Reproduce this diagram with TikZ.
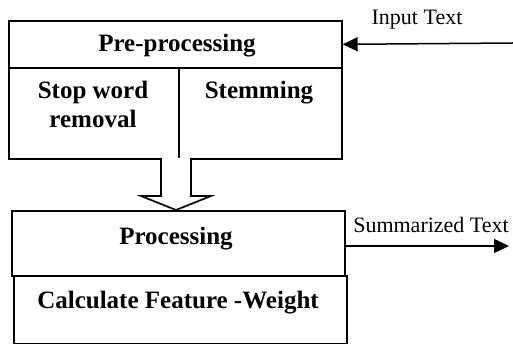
\documentclass[tikz,border=0pt]{standalone}
\usepackage{fontspec}
\setmainfont{Liberation Serif}
\usetikzlibrary{arrows.meta,calc}
\begin{document}
\begin{tikzpicture}[x=1pt,y=-1pt,
  box/.style={draw=black,line width=1.7pt,rectangle,inner sep=0pt,anchor=north west},
  btxt/.style={font=\fontsize{25}{29}\selectfont\bfseries,inner sep=0pt,anchor=base,align=center},
  ltxt/.style={font=\fontsize{22}{26}\selectfont,inner sep=0pt,anchor=base},
  flow/.style={line width=1.5pt,-{Triangle[length=15pt,width=14pt]}}]
\useasboundingbox (0,0) rectangle (513,344);
% top block
\node[box,minimum width=333pt,minimum height=47pt] (pre) at (8,20) {};
\node[box,minimum width=170pt,minimum height=91pt] (stop) at (8,67) {};
\node[box,minimum width=163pt,minimum height=91pt] (stem) at (178,67) {};
\node[btxt] (pret) at (177,52) {Pre-processing};
\node[btxt] (stopt) at (93,99) {Stop word};
\node[btxt] (stopt2) at (93,128) {removal};
\node[btxt] (stemt) at (259,99) {Stemming};
% bottom block
\node[box,minimum width=333pt,minimum height=65pt] (proc) at (11,210) {};
\node[box,minimum width=333pt,minimum height=68pt] (calc) at (13,275) {};
\node[btxt] (proct) at (176,244) {Processing};
\node[btxt] (calct) at (178,308) {Calculate Feature -Weight};
% hollow arrow between blocks
\coordinate (a) at (176,158);
\coordinate (b) at (176,210);
\draw[line width=1.7pt,fill=white,line join=miter]
  ($(a)+(-15,0)$) -- ($(b)+(-15,-14)$) -- ($(b)+(-35,-14)$) -- (b)
  -- ($(b)+(35,-14)$) -- ($(b)+(15,-14)$) -- ($(a)+(15,0)$);
% input / output
\coordinate (in) at (513,43);
\coordinate (out) at (509,246);
\draw[flow] (in) -- (pre.east);
\draw[flow] (proc.east |- out) -- (out);
\node[ltxt] (inl) at (417,25) {Input Text};
\node[ltxt] (outl) at (431,233) {Summarized Text};
\end{tikzpicture}
\end{document}
